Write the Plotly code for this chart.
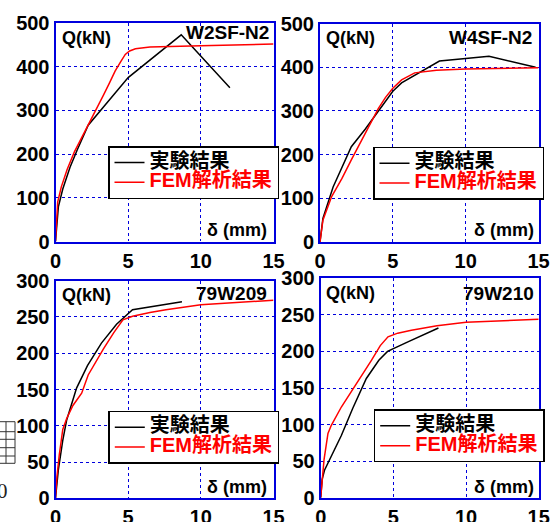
import plotly.graph_objects as go

W, H = 558, 522

# ---------------- data ----------------
# W2SF-N2
w2_exp_x = [0, 0.1, 0.2, 0.5, 1.0, 1.5, 2.25, 5.0, 8.65, 12.0]
w2_exp_q = [0, 50, 80, 120, 170, 210, 266, 375, 473, 352]
w2_fem_x = [0, 0.05, 0.15, 0.4, 0.8, 1.3, 2.0, 2.5, 2.8, 3.3, 3.7, 4.1, 4.5, 4.8, 5.1, 5.5, 6.5, 8, 10, 15]
w2_fem_q = [0, 40, 90, 125, 165, 205, 250, 280, 300, 335, 362, 390, 412, 428, 436, 441, 445, 447, 448, 452]
# W4SF-N2
w4_exp_x = [0, 0.2, 0.9, 2.15, 3.1, 4.0, 5.0, 5.6, 7.0, 8.2, 10.0, 11.6, 14.8]
w4_exp_q = [0, 54, 126, 218, 258, 300, 345, 364, 392, 414, 420, 425, 400]
w4_fem_x = [0, 0.2, 0.8, 1.5, 2.15, 3.2, 4.0, 4.5, 5.0, 5.6, 6.5, 8, 10, 15]
w4_fem_q = [0, 50, 104, 145, 188, 256, 305, 331, 352, 371, 387, 393, 396, 399]
# 79W209
w209_exp_x = [0, 0.2, 0.5, 0.77, 1.45, 2.2, 3.16, 4.2, 5.3, 7.0, 8.7]
w209_exp_q = [0, 40, 80, 108, 152, 183, 214, 240, 260, 265, 271]
w209_fem_x = [0, 0.1, 0.26, 0.5, 0.77, 1.2, 1.8, 2.25, 3.3, 4.0, 4.64, 5.3, 6.5, 7.6, 10, 15]
w209_fem_q = [0, 30, 60, 95, 110, 128, 145, 170, 206, 228, 246, 251, 256, 260, 267, 273]
# 79W210
w210_exp_x = [0, 0.1, 0.27, 0.8, 1.42, 2.2, 3.14, 4.0, 4.6, 6.0, 8.1]
w210_exp_q = [0, 25, 38, 60, 85, 122, 163, 188, 200, 213, 232]
w210_fem_x = [0, 0.1, 0.23, 0.5, 0.73, 1.42, 2.34, 3.0, 3.5, 4.1, 4.63, 5.3, 6.24, 8, 10, 15]
w210_fem_q = [0, 25, 52, 88, 99, 124, 152, 172, 188, 208, 220, 225, 229, 235, 240, 244]

panel_titles = ["W2SF-N2", "W4SF-N2", "79W209", "79W210"]
x_ticks = [0, 5, 10, 15]
y_ticks_top = [0, 100, 200, 300, 400, 500]
y_ticks_bottom = [0, 50, 100, 150, 200, 250, 300]
exp_name = '<span style="font-size:20px">実験結果</span>'
fem_name = '<span style="color:#ff0000;font-size:20px">FEM解析結果</span>'

# ---------------- layout helpers ----------------
def px_x(p):
    return p / W

def px_y(p):
    return 1 - p / H

FONT = "Liberation Sans, Arial, Noto Sans CJK JP"
BLUE = "#0000dd"

fig = go.Figure()

panels = [
    (w2_exp_x, w2_exp_q, w2_fem_x, w2_fem_q, "x", "y", "legend"),
    (w4_exp_x, w4_exp_q, w4_fem_x, w4_fem_q, "x2", "y2", "legend2"),
    (w209_exp_x, w209_exp_q, w209_fem_x, w209_fem_q, "x3", "y3", "legend3"),
    (w210_exp_x, w210_exp_q, w210_fem_x, w210_fem_q, "x4", "y4", "legend4"),
]
for ex, eq, fx, fq, xa, ya, lg in panels:
    fig.add_trace(go.Scatter(x=ex, y=eq, mode="lines", name=exp_name,
                             line=dict(color="black", width=1.5),
                             xaxis=xa, yaxis=ya, legend=lg))
    fig.add_trace(go.Scatter(x=fx, y=fq, mode="lines", name=fem_name,
                             line=dict(color="#ff0000", width=1.5),
                             xaxis=xa, yaxis=ya, legend=lg))

domains = {
    "1": ([55.5, 273.5], [23, 241.5]),
    "2": ([320, 538.5], [23.5, 242]),
    "3": ([55.5, 273.5], [280.7, 498.3]),
    "4": ([320.7, 538.7], [278.3, 497.7]),
}

axis_common = dict(
    showline=True, mirror=True, linecolor=BLUE, linewidth=2,
    showgrid=True, gridcolor=BLUE, griddash="dot", gridwidth=1,
    zeroline=False, ticks="", automargin=False, fixedrange=True,
    tickfont=dict(family=FONT, size=20, color="black", weight="bold"),
)

layout_axes = {}
for k, (xd, yd) in domains.items():
    xname = "xaxis" if k == "1" else f"xaxis{k}"
    yname = "yaxis" if k == "1" else f"yaxis{k}"
    anchor_x = "y" if k == "1" else f"y{k}"
    anchor_y = "x" if k == "1" else f"x{k}"
    yt = y_ticks_top if k in ("1", "2") else y_ticks_bottom
    layout_axes[xname] = dict(axis_common, domain=[px_x(xd[0]), px_x(xd[1])],
                              range=[0, 15], tickvals=x_ticks, anchor=anchor_x)
    layout_axes[yname] = dict(axis_common, domain=[px_y(yd[1]), px_y(yd[0])],
                              range=[0, yt[-1]], tickvals=yt, anchor=anchor_y)

legend_pos = {
    "legend": (108, 146),
    "legend2": (373, 146.7),
    "legend3": (108.3, 410.7),
    "legend4": (373.7, 409.3),
}
legends = {}
for name, (lx, ly) in legend_pos.items():
    legends[name] = dict(
        x=px_x(lx), y=px_y(ly), xanchor="left", yanchor="top",
        bgcolor="white", bordercolor="black", borderwidth=1.5,
        font=dict(family="Liberation Sans, Noto Sans CJK JP", size=13,
                  color="black", weight="bold"),
        itemclick=False, itemdoubleclick=False,
    )

ann_font_label = dict(family=FONT, size=19, color="black", weight="bold")
ann_font_q = dict(family=FONT, size=18, color="black", weight="bold")
annotations = []
# (Q(kN) left x, y), (title right x, y), (delta right x, y)
ann_pos = [
    ((60, 38), (271, 33), (269, 230)),
    ((323.7, 38), (534, 37), (535.5, 230)),
    ((60, 295), (269, 293), (269, 486.7)),
    ((323.7, 293), (535.5, 293.3), (535.5, 486.7)),
]
for (q, t, d), title in zip(ann_pos, panel_titles):
    annotations.append(dict(text="Q(kN)", x=px_x(q[0]), y=px_y(q[1]), xref="paper", yref="paper",
                            xanchor="left", yanchor="middle", showarrow=False, font=ann_font_q))
    annotations.append(dict(text=title, x=px_x(t[0]), y=px_y(t[1]), xref="paper", yref="paper",
                            xanchor="right", yanchor="middle", showarrow=False, font=ann_font_label))
    annotations.append(dict(text="δ (mm)", x=px_x(d[0]), y=px_y(d[1]), xref="paper", yref="paper",
                            xanchor="right", yanchor="middle", showarrow=False, font=ann_font_q))

# fragment of a neighbouring figure at the left edge
annotations.append(dict(text="0", x=px_x(9.5), y=px_y(490.5), xref="paper", yref="paper",
                        xanchor="right", yanchor="middle", showarrow=False,
                        font=dict(family="Liberation Serif", size=21, color="#222")))
shapes = []
for yy in [421.7, 431.7, 439.3, 447.7, 456, 463.3]:
    shapes.append(dict(type="line", xref="paper", yref="paper",
                       x0=0, x1=px_x(15), y0=px_y(yy), y1=px_y(yy),
                       line=dict(color="#333", width=1)))
for xx in [6, 15]:
    shapes.append(dict(type="line", xref="paper", yref="paper",
                       x0=px_x(xx), x1=px_x(xx), y0=px_y(421.7), y1=px_y(463.3),
                       line=dict(color="#333", width=1)))

fig.update_layout(
    width=W, height=H, margin=dict(l=0, r=0, t=0, b=0, autoexpand=False),
    paper_bgcolor="white", plot_bgcolor="white",
    showlegend=True, annotations=annotations, shapes=shapes,
    **layout_axes, **legends,
)

fig.write_html("out.html", config={"displayModeBar": False, "staticPlot": False},
               post_script="document.body.style.margin='0';document.body.style.overflow='hidden';")
